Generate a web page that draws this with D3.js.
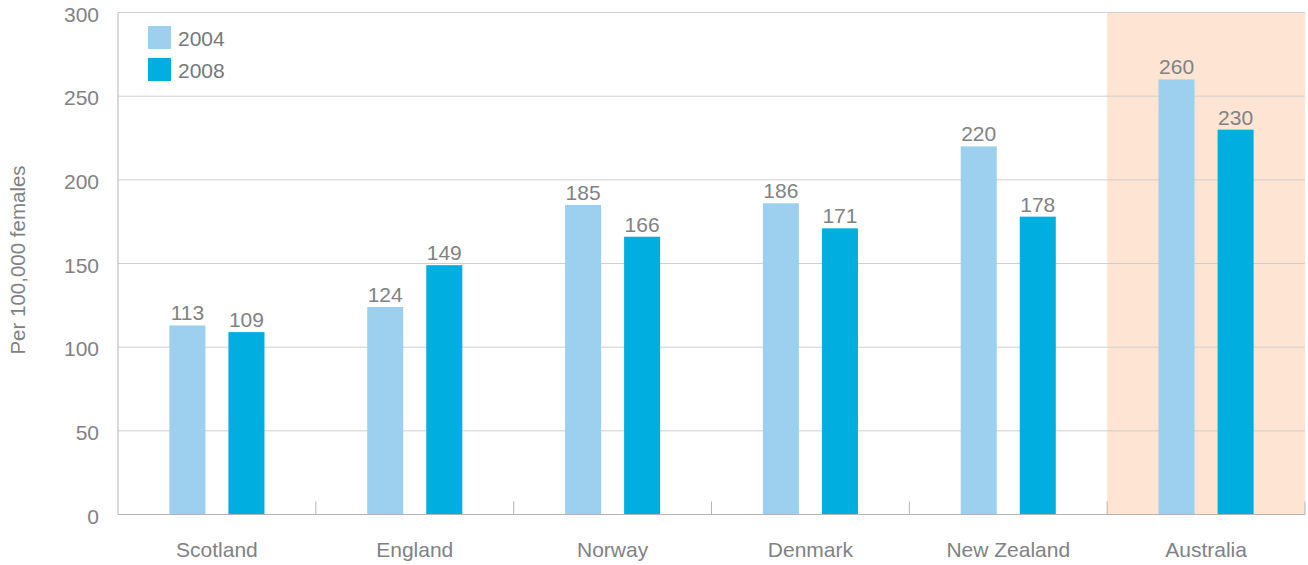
<!DOCTYPE html>
<html><head><meta charset="utf-8">
<script src="https://cdn.jsdelivr.net/npm/d3@7"></script>
<style>body{margin:0;background:#fff}text{font-family:"Liberation Sans",Arial,Helvetica,sans-serif}</style>
</head><body><svg id="c" width="1308" height="565"></svg>
<script>
const categories = ["Scotland","England","Norway","Denmark","New Zealand","Australia"];
const series = ["2004","2008"];
const values2004 = [113,124,185,186,220,260];
const values2008 = [109,149,166,171,178,230];
const yTicks = [0,50,100,150,200,250,300];
const highlighted = "Australia";

(function(){
const colors = {"2004":"#9dd0ee","2008":"#00aee0"};
const svg = d3.select("#c");
const pL=118, pR=1305, pT=12.5, pB=514.5;
const x = d3.scaleBand().domain(categories).range([pL,pR]);
const y = d3.scaleLinear().domain([0,300]).range([pB,pT]);
const xs = d3.scaleBand().domain(series).range([0,x.bandwidth()]).paddingInner(0.39).paddingOuter(0.87);
const grey="#808285";
const fs=21;

svg.append("rect").attr("x",x(highlighted)).attr("y",pT).attr("width",x.bandwidth()).attr("height",pB-pT).attr("fill","#fde4d3");

svg.append("g").selectAll("line").data(yTicks.filter(d=>d>0)).join("line")
  .attr("x1",pL).attr("x2",pR).attr("y1",d=>y(d)).attr("y2",d=>y(d))
  .attr("stroke","#cfcfcf").attr("stroke-width",1);

svg.append("g").selectAll("text").data(yTicks).join("text")
  .attr("x",99).attr("y",d=>y(d)+9).attr("text-anchor","end")
  .attr("font-size",fs).attr("fill",grey).text(d=>d);

const data = categories.map((c,i)=>({c, v:{"2004":values2004[i],"2008":values2008[i]}}));
const g = svg.append("g");
data.forEach(d=>{
  series.forEach(s=>{
    g.append("rect").attr("x",x(d.c)+xs(s)).attr("y",y(d.v[s])).attr("width",xs.bandwidth())
      .attr("height",pB-y(d.v[s])).attr("fill",colors[s]);
    g.append("text").attr("x",x(d.c)+xs(s)+xs.bandwidth()/2).attr("y",y(d.v[s])-5)
      .attr("text-anchor","middle").attr("font-size",fs).attr("fill",grey).text(d.v[s]);
  });
});

svg.append("line").attr("x1",pL).attr("x2",pL).attr("y1",pT).attr("y2",pB).attr("stroke","#b5b5b5");
svg.append("line").attr("x1",pL).attr("x2",pR).attr("y1",pB).attr("y2",pB).attr("stroke","#b5b5b5");
svg.append("g").selectAll("line").data(categories.slice(1).concat(["__end"])).join("line")
  .attr("x1",d=>d==="__end"?pR:x(d)).attr("x2",d=>d==="__end"?pR:x(d))
  .attr("y1",pB-13).attr("y2",pB).attr("stroke","#b5b5b5");

svg.append("g").selectAll("text").data(categories).join("text")
  .attr("x",d=>x(d)+x.bandwidth()/2).attr("y",557).attr("text-anchor","middle")
  .attr("font-size",fs).attr("fill",grey).text(d=>d);

svg.append("text").attr("transform","translate(25,260) rotate(-90)").attr("text-anchor","middle")
  .attr("font-size",20.5).attr("fill",grey).text("Per 100,000 females");

series.forEach((s,i)=>{
  svg.append("rect").attr("x",148).attr("y",26+i*32).attr("width",23).attr("height",23).attr("fill",colors[s]);
  svg.append("text").attr("x",178).attr("y",45.5+i*32).attr("font-size",fs).attr("fill","#76787b").text(s);
});
})();
</script></body></html>
